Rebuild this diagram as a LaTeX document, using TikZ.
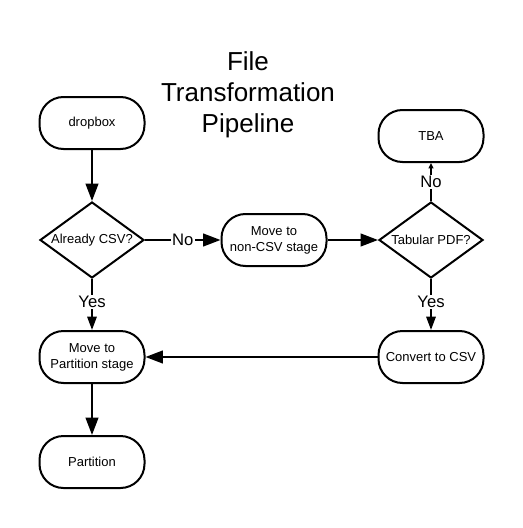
\documentclass[tikz,border=0pt]{standalone}
\usepackage{fontspec}
\setmainfont{Liberation Sans}
\usetikzlibrary{shapes.geometric,arrows.meta}
\begin{document}
\begin{tikzpicture}[x=0.75pt,y=-0.75pt,
  every node/.style={font=\fontsize{9.75pt}{12pt}\selectfont},
  stadium/.style={draw,line width=1.5pt,rounded corners=18pt,minimum width=78.75pt,minimum height=39pt,inner sep=0pt,align=center},
  decision/.style={draw,line width=1.5pt,diamond,aspect=1.37,minimum width=78pt,minimum height=57pt,inner sep=0pt,align=center},
  bigarr/.style={line width=1.5pt,-{Triangle[length=13pt,width=9.5pt]}},
  midarr/.style={line width=1.5pt,-{Triangle[length=10pt,width=7pt]}},
  tinyarr/.style={line width=1.5pt,-{Triangle[length=4pt,width=3.5pt]}},
  lbl/.style={fill=white,inner sep=1pt,font=\fontsize{12.5pt}{14pt}\selectfont}]
\useasboundingbox (0,0) rectangle (523,528);
\node[align=center,font=\fontsize{19.5pt}{23.25pt}\selectfont] (title) at (248,95) {File\\Transformation\\Pipeline};
\node[stadium] (dropbox) at (92,123) {dropbox};
\node[decision] (csv) at (92,240) {Already CSV?};
\node[stadium] (noncsv) at (274,240) {Move to\\non-CSV stage};
\node[decision] (pdf) at (431,240) {Tabular PDF?};
\node[stadium] (tba) at (431,136) {TBA};
\node[stadium] (convert) at (431,357) {Convert to CSV};
\node[stadium] (movepart) at (92,357) {Move to\\Partition stage};
\node[stadium] (partition) at (92,462) {Partition};
\draw[bigarr] (dropbox) -- (csv);
\draw[bigarr] (csv) -- node[lbl]{No} (noncsv);
\draw[bigarr] (noncsv) -- (pdf);
\draw[tinyarr] (pdf) -- node[lbl]{No} (tba);
\draw[midarr] (pdf) -- node[lbl,pos=0.45]{Yes} (convert);
\draw[midarr] (csv) -- node[lbl,pos=0.45]{Yes} (movepart);
\draw[bigarr] (convert) -- (movepart);
\draw[bigarr] (movepart) -- (partition);
\end{tikzpicture}
\end{document}
